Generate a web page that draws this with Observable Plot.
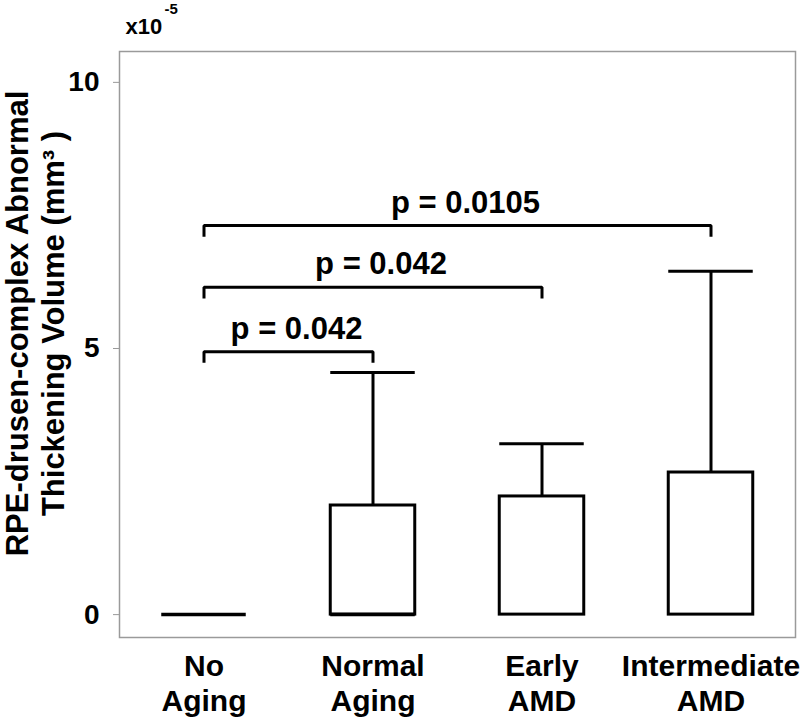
<!DOCTYPE html>
<html>
<head>
<meta charset="utf-8">
<script src="https://cdn.jsdelivr.net/npm/d3@7"></script>
<script src="https://cdn.jsdelivr.net/npm/@observablehq/plot@0.6"></script>
<style>
  html, body { margin: 0; padding: 0; background: #fff; }
  #chart svg { display: block; }
</style>
</head>
<body>
<div id="chart"></div>
<script>
// ---- data (values in units of 1e-5 mm^3) ----
const categories = ["No\nAging", "Normal\nAging", "Early\nAMD", "Intermediate\nAMD"];
const boxLow = [0, 0, 0, 0];
const boxHigh = [0, 2.05, 2.22, 2.67];
const whiskerHigh = [0, 4.55, 3.21, 6.45];
const medians = [0, 0, null, null];

const compareFrom = [0, 0, 0];
const compareTo = [1, 2, 3];
const compareLevel = [4.94, 6.15, 7.31];
const pLabels = ["p = 0.042", "p = 0.042", "p = 0.0105"];

const yTicks = [0, 5, 10];
const yTitle = "RPE-drusen-complex Abnormal\nThickening Volume (mm\u00B3 )";
const scaleBase = "x10";
const scaleExp = "-5";

// ---- derived tables ----
const boxes = categories.map((c, i) => ({
  i, c, low: boxLow[i], high: boxHigh[i], whisker: whiskerHigh[i], median: medians[i]
}));
const halfWidth = 0.25;
const drop = 0.21;
const brackets = pLabels.map((p, k) => ({
  k, from: compareFrom[k], to: compareTo[k], level: compareLevel[k], p
}));
const bracketPath = brackets.flatMap(b => [
  {k: b.k, x: b.from, y: b.level - drop},
  {k: b.k, x: b.from, y: b.level},
  {k: b.k, x: b.to, y: b.level},
  {k: b.k, x: b.to, y: b.level - drop}
]);

const font = "'Liberation Sans', Arial, Helvetica, sans-serif";

const chart = Plot.plot({
  width: 800,
  height: 718,
  marginLeft: 119,
  marginRight: 5,
  marginTop: 51,
  marginBottom: 81,
  style: {fontFamily: font, background: "#fff", color: "#000"},
  x: {type: "linear", domain: [-0.5, 3.5], axis: null},
  y: {domain: [-0.43, 10.58], axis: null},
  marks: [
    Plot.frame({stroke: "#9a9a9a", strokeWidth: 1.5}),
    Plot.axisY(yTicks, {
      tickSize: 6, tickPadding: 14, fontSize: 28, fontWeight: "bold",
      stroke: "#999", fill: "#000", tickFormat: d => String(d)
    }),
    // whiskers
    Plot.ruleX(boxes.filter(d => d.whisker > d.high), {
      x: "i", y1: "high", y2: "whisker", stroke: "#000", strokeWidth: 3
    }),
    Plot.ruleY(boxes.filter(d => d.whisker > d.high), {
      y: "whisker", x1: d => d.i - halfWidth, x2: d => d.i + halfWidth,
      stroke: "#000", strokeWidth: 3
    }),
    // boxes
    Plot.rect(boxes.filter(d => d.high > d.low), {
      x1: d => d.i - halfWidth, x2: d => d.i + halfWidth, y1: "low", y2: "high",
      fill: "#fff", stroke: "#000", strokeWidth: 3
    }),
    // medians
    Plot.ruleY(boxes.filter(d => d.median != null), {
      y: "median", x1: d => d.i - halfWidth, x2: d => d.i + halfWidth,
      stroke: "#000", strokeWidth: 3.5
    }),
    // significance brackets
    Plot.line(bracketPath, {
      x: "x", y: "y", z: "k", stroke: "#000", strokeWidth: 3,
      strokeLinejoin: "miter", strokeLinecap: "butt", curve: "linear"
    }),
    Plot.text(brackets, {
      x: d => (d.from + d.to) / 2, y: "level", text: "p",
      lineAnchor: "bottom", dy: -13, dx: 8,
      fontSize: 31, fontWeight: "bold", fill: "#000"
    }),
    // category labels
    Plot.text(boxes, {
      x: "i", text: "c", frameAnchor: "bottom", lineAnchor: "top",
      dy: 13, lineHeight: 1.18, fontSize: 30, fontWeight: "bold", fill: "#000"
    }),
    // y axis title
    Plot.text([yTitle], {
      text: d => d, frameAnchor: "left", rotate: -90,
      textAnchor: "middle", lineAnchor: "middle", lineHeight: 1.15,
      dx: -85, dy: -21, fontSize: 31, fontWeight: "bold", fill: "#000"
    }),
    // scale factor
    Plot.text([scaleBase], {
      text: d => d, frameAnchor: "top-left", textAnchor: "start", lineAnchor: "bottom",
      dx: 6, dy: -18, fontSize: 22, fontWeight: "bold", fill: "#000"
    }),
    Plot.text([scaleExp], {
      text: d => d, frameAnchor: "top-left", textAnchor: "start", lineAnchor: "bottom",
      dx: 45, dy: -38, fontSize: 15, fontWeight: "bold", fill: "#000"
    })
  ]
});
document.getElementById("chart").appendChild(chart);
</script>
</body>
</html>
